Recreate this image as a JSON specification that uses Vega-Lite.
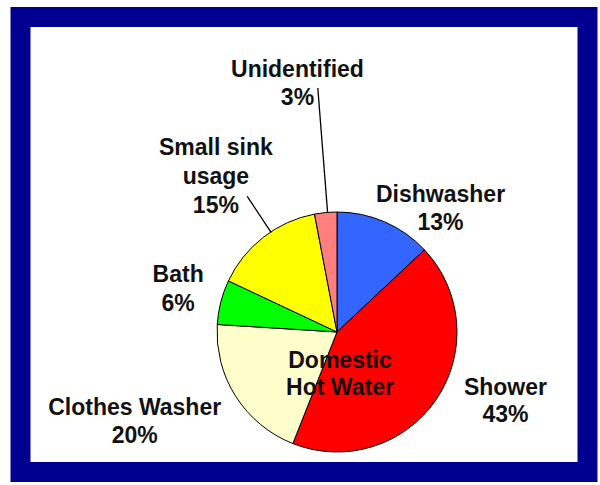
{
  "$schema": "https://vega.github.io/schema/vega-lite/v6.json",
  "width": 567,
  "height": 455,
  "autosize": "none",
  "padding": {"left": 20.5, "top": 17, "right": 12.5, "bottom": 13},
  "background": "white",
  "config": {"view": {"stroke": "#000090", "strokeWidth": 20, "fill": "white"}},
  "data": {
    "values": [
      {"use": "Dishwasher", "pct": 13, "label": "Dishwasher\n13%"},
      {"use": "Shower", "pct": 43, "label": "Shower\n43%"},
      {"use": "Clothes Washer", "pct": 20, "label": "Clothes Washer\n20%"},
      {"use": "Bath", "pct": 6, "label": "Bath\n6%"},
      {"use": "Small sink usage", "pct": 15, "label": "Small sink\nusage\n15%"},
      {"use": "Unidentified", "pct": 3, "label": "Unidentified\n3%"}
    ]
  },
  "encoding": {
    "x": {"datum": 55.82, "type": "quantitative", "scale": {"domain": [0, 100]}, "axis": null, "stack": null},
    "y": {"datum": 69.23, "type": "quantitative", "scale": {"domain": [0, 100], "reverse": true}, "axis": null, "stack": null}
  },
  "layer": [
    {
      "transform": [{"stack": "pct", "groupby": [], "as": ["v0", "v1"]}],
      "mark": {"type": "arc", "outerRadius": 120, "stroke": "black", "strokeWidth": 1},
      "encoding": {
        "theta": {"field": "v0", "type": "quantitative", "scale": {"domain": [0, 100]}},
        "theta2": {"field": "v1"},
        "color": {
          "field": "use",
          "type": "nominal",
          "scale": {
            "domain": ["Dishwasher", "Shower", "Clothes Washer", "Bath", "Small sink usage", "Unidentified"],
            "range": ["#3366FF", "#FF0000", "#FFFFCC", "#00FF00", "#FFFF00", "#FF7F7F"]
          },
          "legend": null
        }
      }
    },
    {
      "transform": [{"stack": "pct", "groupby": [], "as": ["v0", "v1"]}, {"filter": {"field": "use", "equal": "Unidentified"}}],
      "mark": {"type": "arc", "innerRadius": 120, "outerRadius": 244, "thetaOffset": 0.110, "theta2Offset": -0.0785, "fill": null, "fillOpacity": 0, "stroke": "black", "strokeWidth": 1.3},
      "encoding": {"theta": {"field": "v0", "type": "quantitative"}, "theta2": {"field": "v1"}}
    },
    {
      "transform": [{"stack": "pct", "groupby": [], "as": ["v0", "v1"]}, {"filter": {"field": "use", "equal": "Small sink usage"}}],
      "mark": {"type": "arc", "innerRadius": 120, "outerRadius": 162, "thetaOffset": 0.5463, "theta2Offset": -0.3962, "fill": null, "fillOpacity": 0, "stroke": "black", "strokeWidth": 1.3},
      "encoding": {"theta": {"field": "v0", "type": "quantitative"}, "theta2": {"field": "v1"}}
    },
    {
      "transform": [{"stack": "pct", "groupby": [], "as": ["v0", "v1"]}, {"filter": {"field": "use", "equal": "Dishwasher"}}],
      "mark": {"type": "text", "radius": 165, "thetaOffset": 0.4084, "dx": 38, "dy": 21, "align": "center", "baseline": "alphabetic", "font": "Liberation Sans", "fontWeight": "bold", "fontSize": 23, "lineBreak": "\n", "lineHeight": 28.5, "fill": "#111111"},
      "encoding": {"theta": {"field": "v0", "type": "quantitative"}, "text": {"field": "label"}}
    },
    {
      "transform": [{"stack": "pct", "groupby": [], "as": ["v0", "v1"]}, {"filter": {"field": "use", "equal": "Shower"}}],
      "mark": {"type": "text", "radius": 165, "thetaOffset": 1.3509, "dx": 32, "dy": -30, "align": "center", "baseline": "alphabetic", "font": "Liberation Sans", "fontWeight": "bold", "fontSize": 23, "lineBreak": "\n", "lineHeight": 27, "fill": "#111111"},
      "encoding": {"theta": {"field": "v0", "type": "quantitative"}, "text": {"field": "label"}}
    },
    {
      "transform": [{"stack": "pct", "groupby": [], "as": ["v0", "v1"]}, {"filter": {"field": "use", "equal": "Clothes Washer"}}],
      "mark": {"type": "text", "radius": 165, "thetaOffset": 0.6283, "dx": -63, "dy": -5, "align": "center", "baseline": "alphabetic", "font": "Liberation Sans", "fontWeight": "bold", "fontSize": 23, "lineBreak": "\n", "lineHeight": 28, "fill": "#111111"},
      "encoding": {"theta": {"field": "v0", "type": "quantitative"}, "text": {"field": "label"}}
    },
    {
      "transform": [{"stack": "pct", "groupby": [], "as": ["v0", "v1"]}, {"filter": {"field": "use", "equal": "Bath"}}],
      "mark": {"type": "text", "radius": 165, "thetaOffset": 0.1885, "dx": 1, "dy": -9, "align": "center", "baseline": "alphabetic", "font": "Liberation Sans", "fontWeight": "bold", "fontSize": 23, "lineBreak": "\n", "lineHeight": 29, "fill": "#111111"},
      "encoding": {"theta": {"field": "v0", "type": "quantitative"}, "text": {"field": "label"}}
    },
    {
      "transform": [{"stack": "pct", "groupby": [], "as": ["v0", "v1"]}, {"filter": {"field": "use", "equal": "Small sink usage"}}],
      "mark": {"type": "text", "radius": 165, "thetaOffset": 0.4712, "dx": -20, "dy": -47, "align": "center", "baseline": "alphabetic", "font": "Liberation Sans", "fontWeight": "bold", "fontSize": 23, "lineBreak": "\n", "lineHeight": 29, "fill": "#111111"},
      "encoding": {"theta": {"field": "v0", "type": "quantitative"}, "text": {"field": "label"}}
    },
    {
      "transform": [{"stack": "pct", "groupby": [], "as": ["v0", "v1"]}, {"filter": {"field": "use", "equal": "Unidentified"}}],
      "mark": {"type": "text", "radius": 165, "thetaOffset": 0.0942, "dx": -24, "dy": -91, "align": "center", "baseline": "alphabetic", "font": "Liberation Sans", "fontWeight": "bold", "fontSize": 23, "lineBreak": "\n", "lineHeight": 28.5, "fill": "#111111"},
      "encoding": {"theta": {"field": "v0", "type": "quantitative"}, "text": {"field": "label"}}
    },
    {
      "data": {"values": [{"title": "Domestic\nHot Water"}]},
      "mark": {"type": "text", "dx": 3, "dy": 36, "align": "center", "baseline": "alphabetic", "font": "Liberation Sans", "fontWeight": "bold", "fontSize": 23, "lineBreak": "\n", "lineHeight": 27, "fill": "#111111"},
      "encoding": {"text": {"field": "title"}}
    }
  ]
}
